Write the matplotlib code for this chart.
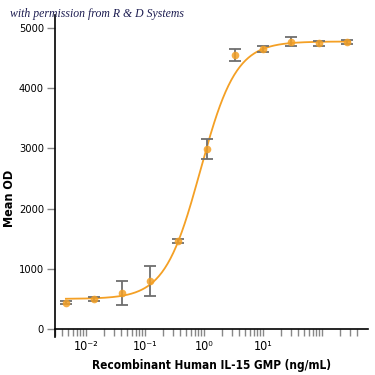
import numpy as np
import matplotlib
matplotlib.use("Agg")
import matplotlib.pyplot as plt

# 3-fold dilution series (ng/mL) and mean OD
conc = [0.00457, 0.0137, 0.0412, 0.123, 0.370, 1.11, 3.33, 10.0, 30.0, 90.0, 270.0]
mean_od = [437, 495, 593, 797, 1462, 2990, 4551, 4650, 4767, 4745, 4767]
err_od = [25, 35, 200, 250, 30, 170, 105, 45, 75, 40, 35]

# four-parameter logistic fit as drawn
fit_bottom, fit_top, fit_ec50, fit_hill = 500, 4775, 0.87, 1.44

xtick_pos = [1e-2, 1e-1, 1e0, 1e1, 1e2]
xtick_lab = ["10\u207b\u00b2", "10\u207b\u00b9", "10\u2070", "10\u00b9", ""]
yticks = [0, 1000, 2000, 3000, 4000, 5000]

ORANGE = "#F4A025"
GREY = "#6e6e6e"

plt.rcParams["font.family"] = ["DejaVu Sans"]
plt.rcParams["font.stretch"] = "condensed"

fig = plt.figure(figsize=(3.75, 3.75), dpi=100)
ax = fig.add_axes([0.1467, 0.1013, 0.8343, 0.8587])

xs = np.logspace(np.log10(conc[0]), np.log10(300), 300)
fit = fit_bottom + (fit_top - fit_bottom) / (1 + (fit_ec50 / xs) ** fit_hill)
ax.plot(xs, fit, color=ORANGE, lw=1.3, zorder=2)

ax.errorbar(conc, mean_od, yerr=err_od, fmt="none", ecolor=GREY,
            elinewidth=1.3, capsize=4, capthick=1.3, zorder=3)
ax.plot(conc, mean_od, "o", color=ORANGE, ms=5.5, alpha=0.85, mec="none", zorder=4)

ax.set_xscale("log")
ax.set_xlim(0.00299, 600)
ax.set_ylim(-133, 5215)

ax.spines["top"].set_visible(False)
ax.spines["right"].set_visible(False)
ax.spines["bottom"].set_position(("data", 0))
ax.spines["left"].set_linewidth(1.2)
ax.spines["bottom"].set_linewidth(1.2)

ax.set_xticks(xtick_pos, xtick_lab)
minor = [m * 10.0 ** d for d in range(-3, 2) for m in range(2, 10)]
minor = [v for v in minor if v > 0.00299] + [200, 300, 400]
ax.set_xticks(minor, minor=True)
ax.tick_params(axis="x", which="both", direction="out", length=5, width=1,
               color="#888888", labelsize=9, pad=3)
ax.set_yticks(yticks)
ax.tick_params(axis="y", direction="out", length=6, width=1, color="#888888",
               labelsize=8, pad=2)

ax.set_ylabel("Mean OD", fontsize=9, fontweight="bold")
ax.yaxis.set_label_coords(-0.125, 0.43)
ax.set_xlabel("Recombinant Human IL-15 GMP (ng/mL)", fontsize=8.5,
              fontweight="bold", labelpad=4)

fig.text(0.027, 0.955, "with permission from R & D Systems", fontsize=8.5,
         style="italic", family="Liberation Serif", color="#1c1c50")

fig.savefig("out.png", dpi=100)
